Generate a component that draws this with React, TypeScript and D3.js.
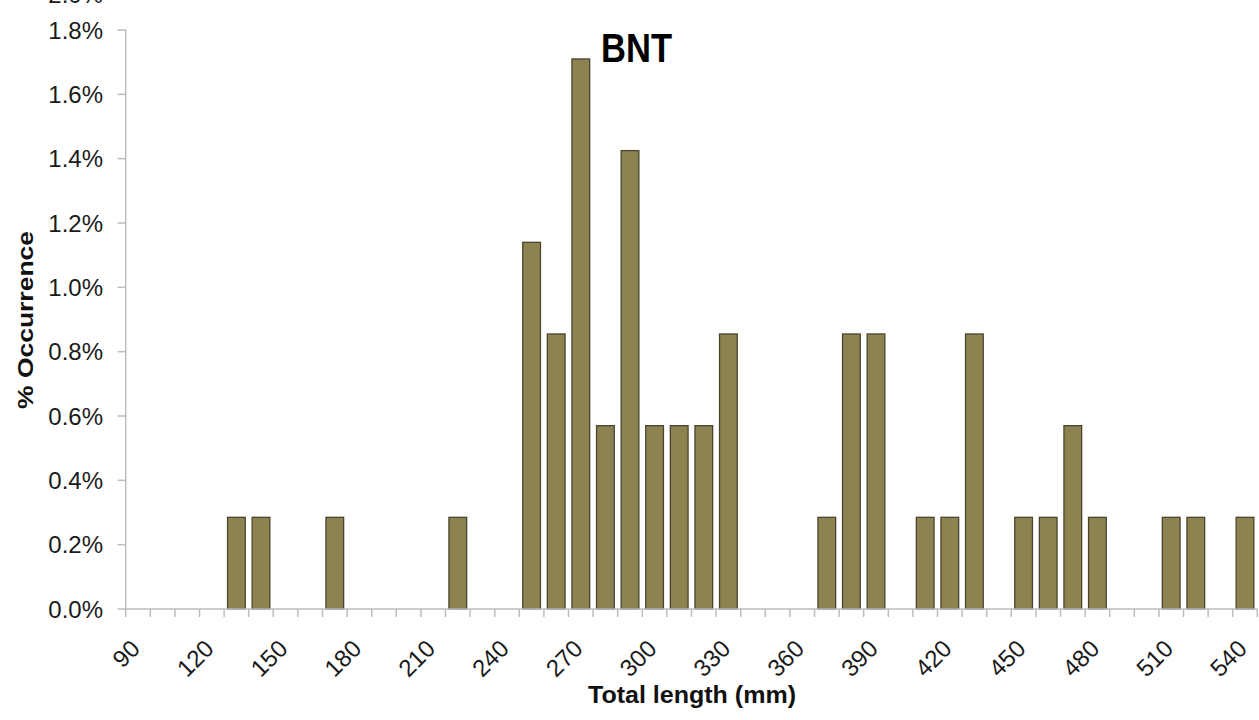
import React from "react";
import * as d3 from "d3";

const categories: number[] = [
  90, 100, 110, 120, 130, 140, 150, 160, 170, 180, 190, 200, 210, 220, 230, 240,
  250, 260, 270, 280, 290, 300, 310, 320, 330, 340, 350, 360, 370, 380, 390, 400,
  410, 420, 430, 440, 450, 460, 470, 480, 490, 500, 510, 520, 530, 540,
];

const occurrence: number[] = [
  0, 0, 0, 0, 0.285, 0.285, 0, 0, 0.285, 0, 0, 0, 0, 0.285, 0, 0,
  1.14, 0.855, 1.71, 0.57, 1.425, 0.57, 0.57, 0.57, 0.855, 0, 0, 0, 0.285, 0.855, 0.855, 0,
  0.285, 0.285, 0.855, 0, 0.285, 0.285, 0.57, 0.285, 0, 0, 0.285, 0.285, 0, 0.285,
];

const xTickLabels: number[] = [90, 120, 150, 180, 210, 240, 270, 300, 330, 360, 390, 420, 450, 480, 510, 540];
const yTicks: number[] = [0, 0.2, 0.4, 0.6, 0.8, 1.0, 1.2, 1.4, 1.6, 1.8];

const chartTitle = "BNT";
const xTitle = "Total length (mm)";
const yTitle = "% Occurrence";

const W = 1259;
const H = 720;
const left = 125.7;
const right = 1257.3;
const top = 30;
const bottom = 609;

const FONT = "'Liberation Sans', Arial, sans-serif";
const AXIS = "#bdbdbd";
const FILL = "#8c8350";
const STROKE = "#4a4530";

export default function App() {
  const keys = categories.map(String);
  const xCat = d3.scaleBand<string>().domain(keys).range([left, right]).padding(0);
  const xBar = d3
    .scaleBand<string>()
    .domain(keys)
    .range([left, right])
    .paddingInner(0.28)
    .paddingOuter(0.14);
  const y = d3.scaleLinear().domain([0, 1.8]).range([bottom, top]);
  const fmt = d3.format(".1f");
  const step = xCat.step();
  const boundaries = d3.range(categories.length + 1).map((i) => left + i * step);

  return (
    <svg
      width={W}
      height={H}
      viewBox={`0 0 ${W} ${H}`}
      style={{ position: "absolute", left: 0, top: 0, background: "#fff" }}
    >
      <rect x={0} y={0} width={W} height={H} fill="#fff" />
      {/* partially cropped label at the top, as in the reference */}
      <text x={103} y={3} textAnchor="end" fontFamily={FONT} fontSize={24} fill="#1a1a1a">
        2.0%
      </text>

      {/* bars */}
      {categories.map((c, i) =>
        occurrence[i] > 0 ? (
          <rect
            key={c}
            x={xBar(String(c))!}
            y={y(occurrence[i])}
            width={xBar.bandwidth()}
            height={y(0) - y(occurrence[i])}
            fill={FILL}
            stroke={STROKE}
            strokeWidth={1.3}
          />
        ) : null
      )}

      {/* y axis */}
      <line x1={left} x2={left} y1={y(1.8)} y2={y(0)} stroke={AXIS} strokeWidth={1.5} />
      {yTicks.map((t) => (
        <g key={t}>
          <line x1={left - 8} x2={left} y1={y(t)} y2={y(t)} stroke={AXIS} strokeWidth={1.5} />
          <text
            x={103}
            y={y(t)}
            dy="0.36em"
            textAnchor="end"
            fontFamily={FONT}
            fontSize={24}
            fill="#1a1a1a"
          >
            {fmt(t)}%
          </text>
        </g>
      ))}

      {/* x axis */}
      <line x1={left} x2={right} y1={y(0)} y2={y(0)} stroke={AXIS} strokeWidth={1.5} />
      {boundaries.map((b, i) => (
        <line key={i} x1={b} x2={b} y1={y(0)} y2={y(0) + 8} stroke={AXIS} strokeWidth={1.5} />
      ))}
      {xTickLabels.map((l) => {
        const cx = xCat(String(l))! + step / 2 + 3.5;
        return (
          <text
            key={l}
            transform={`translate(${cx},${650}) rotate(-45)`}
            textAnchor="end"
            fontFamily={FONT}
            fontSize={24}
            fill="#1a1a1a"
          >
            {l}
          </text>
        );
      })}

      {/* titles */}
      <text
        x={692}
        y={703}
        textAnchor="middle"
        fontFamily={FONT}
        fontWeight="bold"
        fontSize={23}
        textLength={208}
        lengthAdjust="spacingAndGlyphs"
        fill="#111"
      >
        {xTitle}
      </text>
      <text
        transform={`translate(33,320) rotate(-90)`}
        textAnchor="middle"
        fontFamily={FONT}
        fontWeight="bold"
        fontSize={22}
        textLength={178}
        lengthAdjust="spacingAndGlyphs"
        fill="#111"
      >
        {yTitle}
      </text>
      <text
        x={601}
        y={62}
        fontFamily={FONT}
        fontWeight="bold"
        fontSize={40}
        textLength={71}
        lengthAdjust="spacingAndGlyphs"
        fill="#000"
      >
        {chartTitle}
      </text>
    </svg>
  );
}
